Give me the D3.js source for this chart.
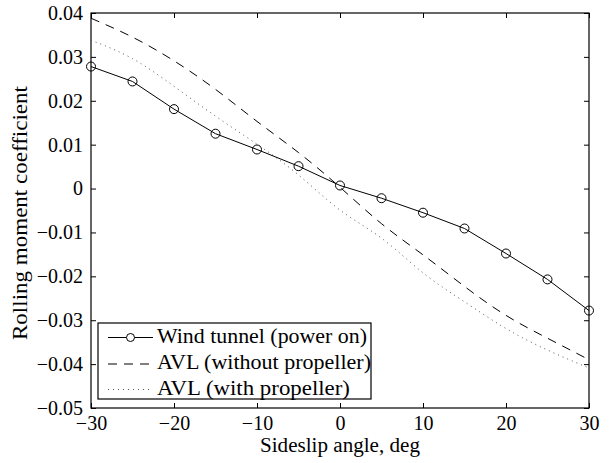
<!DOCTYPE html>
<html>
<head>
<meta charset="utf-8">
<script src="https://cdn.jsdelivr.net/npm/d3@7"></script>
<style>
  body { margin: 0; background: #fff; }
  svg text { font-family: 'Liberation Serif', 'Times New Roman', Times, serif; fill: #000; }
</style>
</head>
<body>
<div id="chart"></div>
<script>
////////////////////////// data //////////////////////////
var sideslip = [-30, -25, -20, -15, -10, -5, 0, 5, 10, 15, 20, 25, 30];
var windTunnel = [0.0278, 0.0244, 0.0181, 0.0125, 0.0089, 0.0051, 0.0007, -0.0022, -0.0055, -0.0091, -0.0148, -0.0207, -0.0278];
var avlNoProp = [0.0388, 0.0345, 0.0291, 0.0226, 0.0153, 0.0082, 0.0003, -0.0080, -0.0151, -0.0223, -0.0289, -0.0341, -0.0390];
var avlProp = [0.0338, 0.0296, 0.0233, 0.0165, 0.0101, 0.0031, -0.0049, -0.0113, -0.0192, -0.0258, -0.0319, -0.0368, -0.0409];
var xTicks = [-30, -20, -10, 0, 10, 20, 30];
var yTicks = [0.04, 0.03, 0.02, 0.01, 0, -0.01, -0.02, -0.03, -0.04, -0.05];
var legendLabels = ["Wind tunnel (power on)", "AVL (without propeller)", "AVL (with propeller)"];

////////////////////////// layout //////////////////////////
var W = 611, H = 463;
var plot = { left: 91, right: 589, top: 13, bottom: 408 };
var tickLen = 5;
var FONT = "'Liberation Serif', 'Times New Roman', Times, serif";

var svg = d3.select("#chart").append("svg")
  .attr("width", W).attr("height", H);

svg.append("rect").attr("width", W).attr("height", H).attr("fill", "#fff");

var x = d3.scaleLinear().domain([-30, 30]).range([plot.left, plot.right]);
var y = d3.scaleLinear().domain([-0.05, 0.04]).range([plot.bottom, plot.top]);

// minus sign like matlab
function fmtY(v) {
  if (v === 0) return "0";
  var s = d3.format(".2f")(Math.abs(v));
  return (v < 0 ? "\u2212" : "") + s;
}
function fmtX(v) {
  return (v < 0 ? "\u2212" : "") + Math.abs(v);
}

////////////////////////// axes //////////////////////////
var bottomAxis = d3.axisBottom(x).tickValues(xTicks).tickSizeInner(-tickLen).tickSizeOuter(0).tickPadding(8).tickFormat(fmtX);
var topAxis = d3.axisTop(x).tickValues(xTicks).tickSizeInner(-tickLen).tickSizeOuter(0).tickFormat("");
var leftAxis = d3.axisLeft(y).tickValues(yTicks).tickSizeInner(-tickLen).tickSizeOuter(0).tickPadding(8).tickFormat(fmtY);
var rightAxis = d3.axisRight(y).tickValues(yTicks).tickSizeInner(-tickLen).tickSizeOuter(0).tickFormat("");

function styleAxis(g) {
  g.attr("font-family", FONT).attr("font-size", 20);
  g.select(".domain").remove();
  g.selectAll("line").attr("stroke", "#000").attr("stroke-width", 1);
  g.selectAll("text").style("font-size", "20px");
}

var gx = svg.append("g").attr("transform", "translate(0," + plot.bottom + ")").call(bottomAxis).call(styleAxis);
gx.selectAll("text").attr("dy", "0.71em");
svg.append("g").attr("transform", "translate(0," + plot.top + ")").call(topAxis).call(styleAxis);
svg.append("g").attr("transform", "translate(" + plot.left + ",0)").call(leftAxis).call(styleAxis);
svg.append("g").attr("transform", "translate(" + plot.right + ",0)").call(rightAxis).call(styleAxis);

// frame
svg.append("rect")
  .attr("x", plot.left).attr("y", plot.top)
  .attr("width", plot.right - plot.left).attr("height", plot.bottom - plot.top)
  .attr("fill", "none").attr("stroke", "#000").attr("stroke-width", 1.2);

// axis titles (widths stretched to what the reference takes)
svg.append("text")
  .attr("x", 260).attr("y", 452)
  .attr("textLength", 160).attr("lengthAdjust", "spacingAndGlyphs")
  .style("font-size", "20px")
  .text("Sideslip angle, deg");

svg.append("text")
  .attr("transform", "translate(27,340) rotate(-90)")
  .attr("textLength", 254).attr("lengthAdjust", "spacingAndGlyphs")
  .style("font-size", "20px")
  .text("Rolling moment coefficient");

////////////////////////// series //////////////////////////
function pts(vals) { return sideslip.map(function (s, i) { return [s, vals[i]]; }); }

var smooth = d3.line().x(d => x(d[0])).y(d => y(d[1])).curve(d3.curveNatural);
var straight = d3.line().x(d => x(d[0])).y(d => y(d[1]));

svg.append("path").datum(pts(avlNoProp))
  .attr("d", smooth).attr("fill", "none").attr("stroke", "#000")
  .attr("stroke-width", 1).attr("stroke-dasharray", "9,7");

svg.append("path").datum(pts(avlProp))
  .attr("d", smooth).attr("fill", "none").attr("stroke", "#555")
  .attr("stroke-width", 1).attr("stroke-dasharray", "1,4");

svg.append("path").datum(pts(windTunnel))
  .attr("d", straight).attr("fill", "none").attr("stroke", "#000").attr("stroke-width", 1);

svg.selectAll("circle.wt")
  .data(pts(windTunnel)).enter().append("circle")
  .attr("class", "wt")
  .attr("cx", d => x(d[0])).attr("cy", d => y(d[1]))
  .attr("r", 4.5).attr("fill", "none").attr("stroke", "#000").attr("stroke-width", 1);

////////////////////////// legend //////////////////////////
var legendBox = { x: 98, y: 323, w: 273, h: 76 };
svg.append("rect")
  .attr("x", legendBox.x).attr("y", legendBox.y)
  .attr("width", legendBox.w).attr("height", legendBox.h)
  .attr("fill", "#fff").attr("stroke", "#000").attr("stroke-width", 1.2);

var rowY = [337.5, 364, 389.5];
var textW = [210, 214, 193];
var lineX0 = 108, lineX1 = 153;
var dashes = [null, "9,7", "1,4"];
var strokes = ["#000", "#000", "#555"];

legendLabels.forEach(function (lab, i) {
  svg.append("line")
    .attr("x1", lineX0).attr("x2", lineX1)
    .attr("y1", rowY[i]).attr("y2", rowY[i])
    .attr("stroke", strokes[i]).attr("stroke-width", 1)
    .attr("stroke-dasharray", dashes[i]);
  svg.append("text")
    .attr("x", 157).attr("y", rowY[i] + 5)
    .attr("textLength", textW[i]).attr("lengthAdjust", "spacingAndGlyphs")
    .style("font-size", "20px")
    .text(lab);
});
svg.append("circle")
  .attr("cx", (lineX0 + lineX1) / 2).attr("cy", rowY[0])
  .attr("r", 4).attr("fill", "#fff").attr("stroke", "#000");
</script>
</body>
</html>
